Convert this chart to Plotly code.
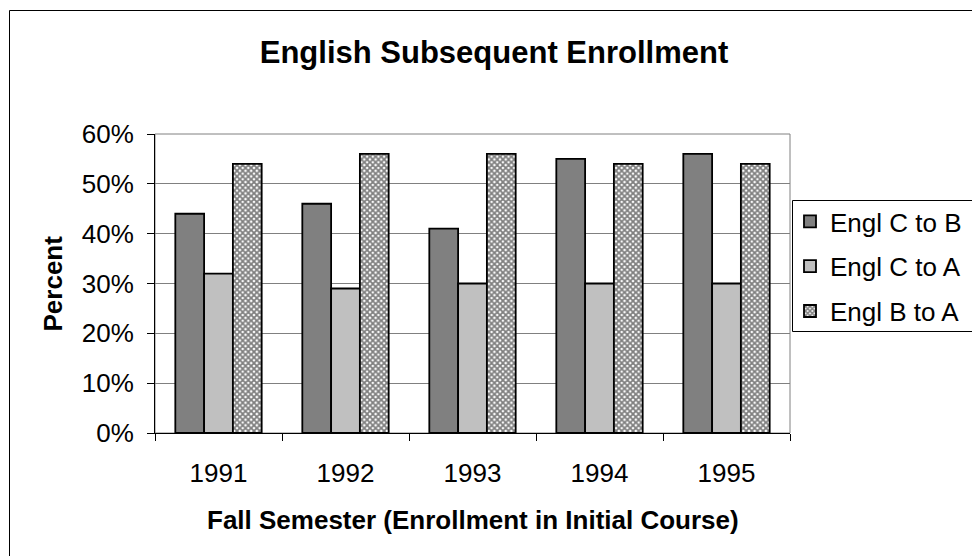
import plotly.graph_objects as go

years = ["1991", "1992", "1993", "1994", "1995"]
engl_c_to_b = [0.44, 0.46, 0.41, 0.55, 0.56]
engl_c_to_a = [0.32, 0.29, 0.30, 0.30, 0.30]
engl_b_to_a = [0.54, 0.56, 0.56, 0.54, 0.54]
series_names = ["Engl C to B", "Engl C to A", "Engl B to A"]
y_ticks = [0, 0.1, 0.2, 0.3, 0.4, 0.5, 0.6]

W, H = 972, 556
L, R, T, B = 155, 790, 134, 433  # plot area in pixels
pw, ph = R - L, B - T

def px_x(x):
    return (x - L) / pw

def px_y(y):
    return (B - y) / ph

FONT = "Liberation Sans, Arial, sans-serif"

fig = go.Figure()
fig.add_trace(go.Bar(x=years, y=engl_c_to_b, name=series_names[0],
                     marker=dict(color="#808080", line=dict(color="black", width=1.8)),
                     legendgroup="a"))
fig.add_trace(go.Bar(x=years, y=engl_c_to_a, name=series_names[1],
                     marker=dict(color="#C0C0C0", line=dict(color="black", width=1.8)),
                     legendgroup="b"))
fig.add_trace(go.Bar(x=years, y=engl_b_to_a, name=series_names[2],
                     marker=dict(color="white", line=dict(color="black", width=1.8),
                                 pattern=dict(shape="x", fgcolor="black", bgcolor="white",
                                              size=4, solidity=0.7)),
                     legendgroup="c"))

fig.update_layout(
    width=W, height=H,
    margin=dict(l=L, r=W - R, t=T, b=H - B, autoexpand=False),
    paper_bgcolor="white", plot_bgcolor="white",
    barmode="group", bargap=0.32, bargroupgap=0,
    font=dict(family=FONT, size=26, color="black"),
    title=dict(text="<b>English Subsequent Enrollment</b>", x=494 / W, xanchor="center",
               xref="container", y=1 - 52 / H, yanchor="middle", yref="container",
               font=dict(size=31, family=FONT, color="black")),
    legend=dict(x=px_x(790), xanchor="left", y=px_y(198), yanchor="top",
                bgcolor="rgba(0,0,0,0)", borderwidth=0,
                font=dict(size=26, family=FONT, color="black"),
                traceorder="grouped", tracegroupgap=8),
    showlegend=True,
)

fig.update_xaxes(type="category", showline=True, linecolor="black", linewidth=1,
                 ticks="outside", ticklen=7, tickcolor="black", tickson="boundaries",
                 showgrid=False, tickfont=dict(size=26, family=FONT, color="black"),
                 ticklabelstandoff=17)
fig.update_yaxes(range=[0, 0.6], tickvals=y_ticks, tickformat=".0%",
                 showline=True, linecolor="black", linewidth=1,
                 ticks="outside", ticklen=7, tickcolor="black",
                 showgrid=True, gridcolor="#808080", gridwidth=1, zeroline=False,
                 tickfont=dict(size=26, family=FONT, color="black"),
                 ticklabelstandoff=8)

# plot area border (gray), outer chart border, legend box
fig.add_shape(type="rect", xref="paper", yref="paper", x0=0, x1=1, y0=0, y1=1,
              line=dict(color="#808080", width=1), layer="below")
fig.add_shape(type="rect", xref="paper", yref="paper",
              x0=px_x(9.5), x1=px_x(1000), y0=px_y(600), y1=px_y(10.5),
              line=dict(color="black", width=1), fillcolor="rgba(0,0,0,0)", layer="below")
fig.add_shape(type="rect", xref="paper", yref="paper",
              x0=px_x(792.5), x1=px_x(1000), y0=px_y(331.5), y1=px_y(200.5),
              line=dict(color="black", width=1), fillcolor="rgba(0,0,0,0)", layer="below")

# axis titles
fig.add_annotation(text="<b>Fall Semester (Enrollment in Initial Course)</b>",
                   xref="paper", yref="paper", x=0.5, y=px_y(520), xanchor="center",
                   yanchor="middle", showarrow=False,
                   font=dict(size=26, family=FONT, color="black"))
fig.add_annotation(text="<b>Percent</b>", textangle=-90,
                   xref="paper", yref="paper", x=px_x(52), y=0.5, xanchor="center",
                   yanchor="middle", showarrow=False,
                   font=dict(size=26, family=FONT, color="black"))

fig.write_html("out.html", config={"displayModeBar": False},
               post_script="document.body.style.margin='0';document.body.style.overflow='hidden';")
